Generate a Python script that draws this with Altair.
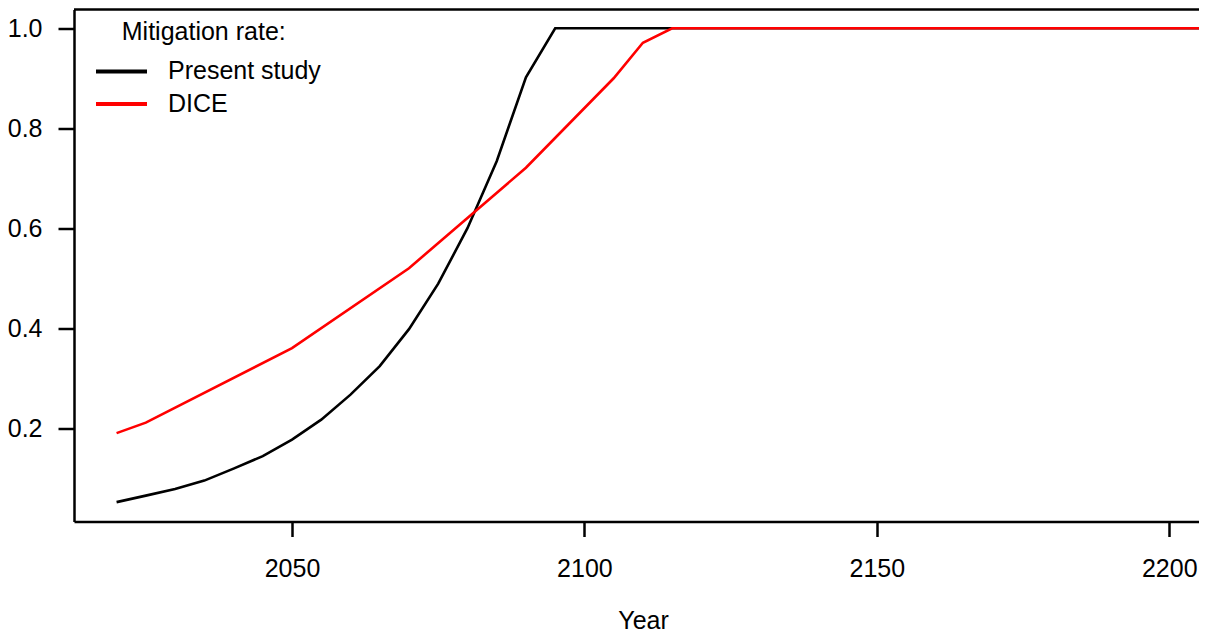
import altair as alt
import pandas as pd

# Series
years_present = [2020, 2025, 2030, 2035, 2040, 2045, 2050, 2055, 2060, 2065,
                 2070, 2075, 2080, 2085, 2090, 2095, 2100, 2150, 2200, 2210]
present = [0.052, 0.065, 0.078, 0.095, 0.119, 0.144, 0.177, 0.217, 0.267, 0.324,
           0.398, 0.489, 0.600, 0.734, 0.902, 1.0, 1.0, 1.0, 1.0, 1.0]

years_dice = [2020, 2025, 2050, 2070, 2090, 2105, 2110, 2115, 2150, 2200, 2210]
dice = [0.190, 0.211, 0.360, 0.520, 0.721, 0.900, 0.971, 1.0, 1.0, 1.0, 1.0]

series_names = ["Present study", "DICE"]
series_colors = ["black", "red"]
x_ticks = [2050, 2100, 2150, 2200]
y_ticks = [0.2, 0.4, 0.6, 0.8, 1.0]

rows = []
for y, v in zip(years_present, present):
    rows.append({"year": y, "rate": v, "series": series_names[0]})
for y, v in zip(years_dice, dice):
    rows.append({"year": y, "rate": v, "series": series_names[1]})
df = pd.DataFrame(rows)

FONT = "Liberation Sans"
W, H = 1125, 512
PAD_L, PAD_T, PAD_B = 66, 1.5, 112.5

legend_title = "\u200b\u00a0\u00a0\u00a0\u00a0Mitigation rate:"

lines = alt.Chart(df).mark_line(strokeWidth=2.6, clip=True).encode(
    x=alt.X("year:Q",
            scale=alt.Scale(domain=[2012.72, 2205.09], nice=False, zero=False),
            axis=alt.Axis(values=x_ticks, format="d", title="Year",
                          tickSize=15, labelPadding=40, labelBaseline="alphabetic",
                          titleX=569, titleY=106.5, titleAlign="center",
                          titleBaseline="alphabetic")),
    y=alt.Y("rate:Q",
            scale=alt.Scale(domain=[0.0132, 1.0376], nice=False, zero=False),
            axis=alt.Axis(values=y_ticks, format=".1f", title=None,
                          tickSize=16, labelPadding=16)),
    color=alt.Color("series:N",
                    scale=alt.Scale(domain=series_names, range=series_colors),
                    legend=alt.Legend(title=legend_title, orient="none",
                                      legendX=20, legendY=10.4,
                                      symbolType="stroke", symbolSize=2601,
                                      symbolStrokeWidth=4,
                                      labelFontSize=25, titleFontSize=25,
                                      titleFontWeight="normal", titleAnchor="start",
                                      titleAlign="left", titleLimit=500,
                                      labelLimit=500,
                                      labelOffset=19, rowPadding=6.5, titlePadding=14,
                                      padding=0, clipHeight=25)),
    order="year:Q",
)

top_rule = alt.Chart(pd.DataFrame({"a": [0]})).mark_rule(
    color="black", strokeWidth=2.5
).encode(x=alt.value(0), x2=alt.value(W), y=alt.value(0))

chart = alt.layer(lines, top_rule).properties(
    width=W, height=H,
    autosize=alt.AutoSizeParams(type="none"),
    padding={"top": PAD_T, "left": PAD_L, "right": 0, "bottom": PAD_B},
).configure_view(stroke=None).configure_axis(
    domainColor="black", domainWidth=2.5, tickColor="black", tickWidth=2.5,
    labelFont=FONT, labelFontSize=25, labelColor="black",
    titleFont=FONT, titleFontSize=25, titleFontWeight="normal", titleColor="black",
    grid=False,
).configure_legend(
    labelFont=FONT, titleFont=FONT, labelColor="black", titleColor="black",
)

chart.save("out.html", embed_options={"renderer": "svg", "actions": False})
